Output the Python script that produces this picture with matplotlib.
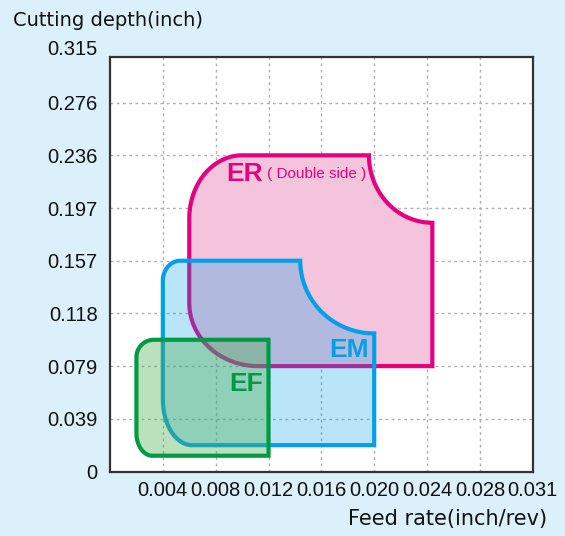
"""
Insert application range: cutting depth vs feed rate for ER / EM / EF chipbreakers.
Positions are in mm (1 grid step = 0.1 mm feed, 1 mm depth); tick labels in inch.
"""

import numpy as np
import matplotlib
matplotlib.use('Agg')
import matplotlib.pyplot as plt
from matplotlib.path import Path
from matplotlib.patches import PathPatch
from matplotlib.colors import to_rgba

# ── data ───────────────────────────────────────────────────────────────
X_TICKS = [1, 2, 3, 4, 5, 6, 7, 8]
X_LABELS = ['0.004', '0.008', '0.012', '0.016', '0.020', '0.024', '0.028', '0.031']
Y_TICKS = [0, 1, 2, 3, 4, 5, 6, 7, 8]
Y_LABELS = ['0', '0.039', '0.079', '0.118', '0.157', '0.197', '0.236', '0.276', '0.315']

# (feed min, feed max, depth min, depth max)
ER_RANGE = (1.5, 6.1, 2.0, 6.0)
EM_RANGE = (1.0, 5.0, 0.5, 4.0)
EF_RANGE = (0.5, 3.0, 0.3, 2.5)

BG = '#dcf0fb'
TICKFONT = ['Liberation Sans Narrow', 'Liberation Sans']


def region_path(rng, bl=(0, 0), tl=(0, 0), tr=(0, 0), cut=False, n=40):
    """Rectangle with rounded bottom-left / top-left corners and a
    rounded or concave (cut) top-right corner; bottom-right is sharp."""
    x0, x1, y0, y1 = rng
    pts = []
    t = np.radians(np.linspace(180, 270, n))
    pts += list(zip(x0 + bl[0] + bl[0] * np.cos(t), y0 + bl[1] + bl[1] * np.sin(t)))
    pts.append((x1, y0))
    if cut:
        t = np.radians(np.linspace(270, 180, n))
        pts += list(zip(x1 + tr[0] * np.cos(t), y1 + tr[1] * np.sin(t)))
    else:
        t = np.radians(np.linspace(0, 90, n))
        pts += list(zip(x1 - tr[0] + tr[0] * np.cos(t), y1 - tr[1] + tr[1] * np.sin(t)))
    t = np.radians(np.linspace(90, 180, n))
    pts += list(zip(x0 + tl[0] + tl[0] * np.cos(t), y1 - tl[1] + tl[1] * np.sin(t)))
    pts.append(pts[0])
    return Path(pts, closed=True)


fig = plt.figure(figsize=(5.65, 5.36), dpi=100, facecolor=BG)
ax = fig.add_axes([0.1947, 0.1203, 0.7482, 0.7733])
ax.set_facecolor('white')

ax.set_xlim(0, 8)
ax.set_ylim(0, 7.865)
ax.set_xticks(X_TICKS)
ax.set_xticklabels(X_LABELS, family=TICKFONT, fontsize=14.5)
ax.set_yticks(Y_TICKS[:-1])
ax.set_yticklabels(Y_LABELS[:-1], family=TICKFONT, fontsize=14.5)
ax.tick_params(length=0, colors='#111111')
ax.tick_params(axis='x', pad=7)
ax.tick_params(axis='y', pad=9)
# top label sits just above the frame in the original
ax.annotate(Y_LABELS[-1], xy=(0, Y_TICKS[-1]), xycoords=ax.get_yaxis_transform(),
            xytext=(-9, 0), textcoords='offset points', ha='right', va='center',
            family=TICKFONT, fontsize=14.5, color='#111111', annotation_clip=False)

ax.set_axisbelow(True)
ax.grid(True, color='#b0b0b0', linestyle=(0, (2, 2.5)), linewidth=1.0)
for s in ax.spines.values():
    s.set_color('#333333')
    s.set_linewidth(1.6)

er = PathPatch(region_path(ER_RANGE, bl=(1.3, 1.2), tl=(1.0, 1.2), tr=(1.2, 1.28), cut=True),
               facecolor='#f4c3dc', edgecolor='#e4007f', linewidth=3.0, zorder=2)
em = PathPatch(region_path(EM_RANGE, bl=(0.55, 0.87), tl=(0.33, 0.38), tr=(1.4, 1.38), cut=True),
               facecolor=to_rgba('#00a0e9', 0.27), edgecolor='#00a0e9', linewidth=3.0, zorder=3)
ef = PathPatch(region_path(EF_RANGE, bl=(0.3, 0.43), tl=(0.33, 0.33)),
               facecolor=to_rgba('#4caf50', 0.38), edgecolor='#009944', linewidth=3.0, zorder=4)
for p in (er, em, ef):
    ax.add_patch(p)

label_kw = dict(family=TICKFONT, fontweight='bold', fontstretch='condensed',
                fontsize=19, va='center', zorder=6)
ax.text(2.90, 5.64, 'ER', color='#e4007f', ha='right', **label_kw)
ax.text(2.97, 5.64, '( Double side )', color='#e4007f', family=TICKFONT, fontsize=11,
        ha='left', va='center', zorder=6)
ax.text(4.52, 2.30, 'EM', color='#00a0e9', ha='center', **label_kw)
ax.text(2.58, 1.67, 'EF', color='#009944', ha='center', **label_kw)

fig.text(13 / 565, 1 - 20 / 536, 'Cutting depth(inch)', fontsize=14, color='#111111',
         ha='left', va='center')
fig.text(547 / 565, 1 - 519 / 536, 'Feed rate(inch/rev)', fontsize=15, color='#111111',
         ha='right', va='center')

fig.savefig('out.png', dpi=100, facecolor=BG)
